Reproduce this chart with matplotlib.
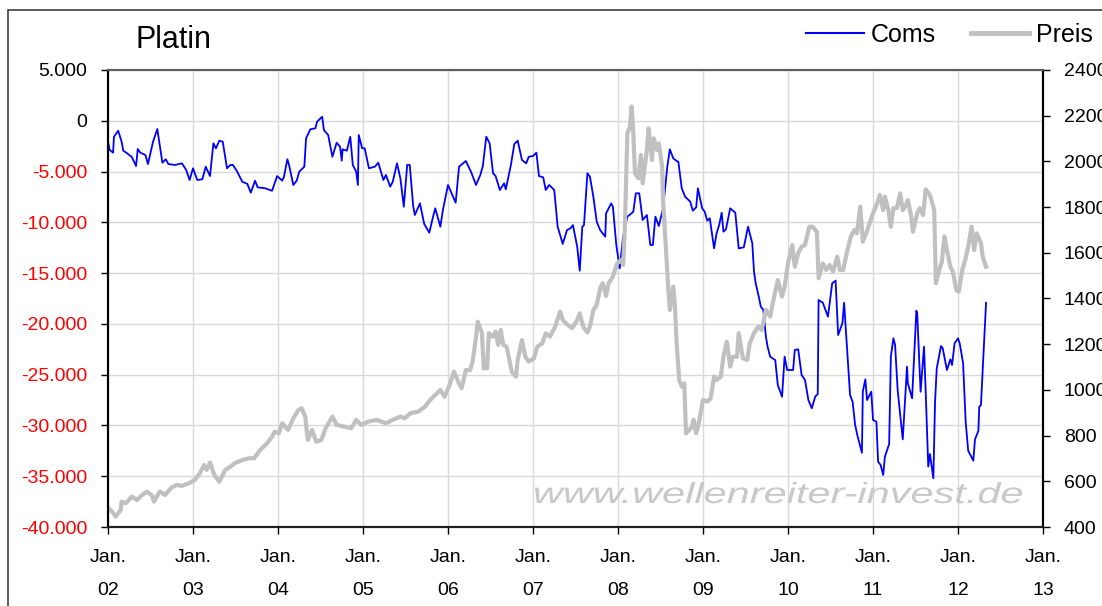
import matplotlib
matplotlib.use('Agg')
import matplotlib.pyplot as plt
from matplotlib.lines import Line2D
from matplotlib.patches import Rectangle, PathPatch
from matplotlib.textpath import TextPath
from matplotlib.font_manager import FontProperties
from matplotlib.transforms import Affine2D, IdentityTransform
from matplotlib.ticker import FuncFormatter

plt.rcParams['font.family'] = ['Liberation Sans', 'DejaVu Sans']

# Coms (net position), decimal years
coms_t = [2002.00, 2002.02, 2002.06, 2002.07, 2002.12, 2002.16, 2002.18, 2002.22, 2002.28, 2002.33,
          2002.35, 2002.38, 2002.44, 2002.47, 2002.53, 2002.58, 2002.64, 2002.68, 2002.71, 2002.79,
          2002.87, 2002.92, 2002.96, 2003.00, 2003.05, 2003.11, 2003.15, 2003.20, 2003.24, 2003.27,
          2003.31, 2003.35, 2003.40, 2003.44, 2003.47, 2003.52, 2003.58, 2003.64, 2003.68, 2003.73,
          2003.76, 2003.85, 2003.93, 2003.99, 2004.05, 2004.07, 2004.11, 2004.13, 2004.18, 2004.22,
          2004.25, 2004.31, 2004.33, 2004.38, 2004.44, 2004.46, 2004.52, 2004.54, 2004.59, 2004.64,
          2004.69, 2004.73, 2004.75, 2004.76, 2004.81, 2004.85, 2004.88, 2004.92, 2004.94, 2004.95,
          2004.99, 2005.02, 2005.07, 2005.14, 2005.18, 2005.24, 2005.27, 2005.32, 2005.35, 2005.40,
          2005.44, 2005.48, 2005.52, 2005.55, 2005.59, 2005.61, 2005.67, 2005.72, 2005.78, 2005.81,
          2005.85, 2005.91, 2005.94, 2006.00, 2006.09, 2006.13, 2006.21, 2006.27, 2006.33, 2006.38,
          2006.41, 2006.45, 2006.49, 2006.53, 2006.56, 2006.61, 2006.66, 2006.68, 2006.74, 2006.78,
          2006.82, 2006.87, 2006.92, 2006.95, 2007.00, 2007.04, 2007.07, 2007.12, 2007.15, 2007.19,
          2007.25, 2007.29, 2007.35, 2007.40, 2007.44, 2007.47, 2007.52, 2007.55, 2007.58, 2007.60,
          2007.64, 2007.67, 2007.71, 2007.75, 2007.79, 2007.85, 2007.86, 2007.92, 2007.94, 2007.98,
          2008.02, 2008.06, 2008.11, 2008.16, 2008.18, 2008.21, 2008.25, 2008.29, 2008.34, 2008.38,
          2008.41, 2008.44, 2008.48, 2008.53, 2008.58, 2008.61, 2008.65, 2008.69, 2008.71, 2008.75,
          2008.79, 2008.85, 2008.88, 2008.92, 2008.94, 2008.99, 2009.02, 2009.05, 2009.08, 2009.13,
          2009.16, 2009.19, 2009.22, 2009.24, 2009.27, 2009.32, 2009.38, 2009.42, 2009.48, 2009.53,
          2009.58, 2009.60, 2009.62, 2009.66, 2009.68, 2009.71, 2009.74, 2009.76, 2009.79, 2009.85,
          2009.88, 2009.93, 2009.96, 2009.99, 2010.06, 2010.08, 2010.12, 2010.16, 2010.20, 2010.24,
          2010.28, 2010.32, 2010.35, 2010.36, 2010.41, 2010.47, 2010.52, 2010.56, 2010.59, 2010.64,
          2010.66, 2010.73, 2010.76, 2010.79, 2010.82, 2010.87, 2010.88, 2010.91, 2010.93, 2010.98,
          2011.00, 2011.04, 2011.06, 2011.09, 2011.12, 2011.14, 2011.19, 2011.21, 2011.24, 2011.26,
          2011.29, 2011.35, 2011.40, 2011.41, 2011.46, 2011.51, 2011.52, 2011.56, 2011.60, 2011.62,
          2011.65, 2011.67, 2011.71, 2011.73, 2011.75, 2011.80, 2011.82, 2011.87, 2011.91, 2011.93,
          2011.96, 2012.00, 2012.02, 2012.06, 2012.09, 2012.12, 2012.18, 2012.20, 2012.24, 2012.25,
          2012.27, 2012.33]
coms = [-2060, -2880, -3140, -1570, -980, -2060, -2950, -3170, -3570, -4450,
        -2780, -3140, -3370, -4260, -2060, -810, -4130, -3790, -4260, -4350,
        -4190, -4850, -5830, -4680, -5830, -5760, -4520, -5440, -2220, -2710,
        -1960, -2060, -4680, -4350, -4350, -5010, -6000, -6220, -7080, -5900,
        -6550, -6650, -6890, -5440, -5900, -5510, -3790, -4350, -6320, -5900,
        -5010, -4520, -1730, -840, -740, -90, 400, -910, -1400, -3540,
        -2160, -2550, -3930, -2810, -2950, -1570, -4350, -5010, -6320, -1400,
        -2710, -2710, -4680, -4520, -4130, -5830, -5340, -6490, -6000, -4190,
        -5670, -8460, -4350, -4350, -8390, -9280, -8130, -10160, -11020, -9940,
        -8620, -10430, -8790, -6320, -8070, -4520, -3960, -5010, -6320, -5340,
        -4450, -1570, -2220, -5170, -5440, -6820, -6160, -6750, -4350, -2290,
        -1960, -3860, -4190, -3540, -3470, -3140, -5440, -5570, -6820, -6320,
        -6820, -10430, -12130, -10760, -10590, -10270, -12400, -14760, -10430, -10270,
        -5170, -5510, -7480, -9940, -10760, -11410, -9110, -8130, -8460, -12230,
        -14530, -11410, -9440, -9110, -8950, -7140, -7140, -9770, -9280, -12230,
        -12230, -9440, -10360, -8620, -4520, -2810, -3700, -3960, -4030, -6650,
        -7480, -7970, -8850, -8520, -6650, -8620, -8950, -9840, -9600, -12560,
        -11080, -10270, -9050, -10920, -10690, -8620, -9050, -12560, -12460, -10430,
        -12070, -14860, -16000, -17480, -18300, -18630, -21260, -22250, -23230, -23560,
        -26020, -27170, -23230, -24540, -24540, -22570, -22500, -25030, -25530, -27500,
        -28310, -27170, -26900, -17650, -17920, -19290, -16000, -15740, -21100, -19940,
        -17920, -27000, -27660, -29960, -31110, -32690, -26680, -25460, -27500, -26680,
        -29460, -29630, -33570, -33900, -34880, -33080, -31830, -23230, -21420, -22080,
        -26510, -31370, -24220, -25850, -27330, -18700, -18960, -26680, -22250, -26680,
        -34060, -32810, -35210, -27660, -24370, -22180, -22400, -24540, -23490, -24050,
        -21910, -21420, -21910, -23880, -29630, -32490, -33470, -31370, -30520, -28160,
        -27990, -17920]

# Platinum price (USD), decimal years
preis_t = [2002.01, 2002.05, 2002.09, 2002.15, 2002.16, 2002.21, 2002.28, 2002.34, 2002.40, 2002.46,
           2002.52, 2002.54, 2002.61, 2002.67, 2002.75, 2002.81, 2002.87, 2002.95, 2003.02, 2003.08,
           2003.13, 2003.16, 2003.20, 2003.25, 2003.31, 2003.38, 2003.44, 2003.49, 2003.58, 2003.66,
           2003.72, 2003.79, 2003.87, 2003.93, 2003.96, 2004.01, 2004.05, 2004.12, 2004.18, 2004.24,
           2004.28, 2004.32, 2004.35, 2004.40, 2004.45, 2004.51, 2004.56, 2004.64, 2004.69, 2004.78,
           2004.86, 2004.92, 2004.98, 2005.06, 2005.16, 2005.27, 2005.35, 2005.44, 2005.49, 2005.56,
           2005.65, 2005.73, 2005.79, 2005.85, 2005.91, 2005.96, 2006.02, 2006.07, 2006.12, 2006.16,
           2006.21, 2006.26, 2006.29, 2006.33, 2006.35, 2006.40, 2006.42, 2006.46, 2006.48, 2006.53,
           2006.56, 2006.59, 2006.62, 2006.65, 2006.69, 2006.75, 2006.80, 2006.82, 2006.87, 2006.91,
           2006.95, 2007.01, 2007.05, 2007.11, 2007.15, 2007.20, 2007.26, 2007.32, 2007.35, 2007.41,
           2007.46, 2007.52, 2007.55, 2007.59, 2007.64, 2007.67, 2007.71, 2007.75, 2007.79, 2007.82,
           2007.86, 2007.89, 2007.94, 2007.99, 2008.04, 2008.06, 2008.08, 2008.11, 2008.14, 2008.16,
           2008.18, 2008.20, 2008.24, 2008.27, 2008.29, 2008.34, 2008.36, 2008.40, 2008.42, 2008.46,
           2008.48, 2008.52, 2008.53, 2008.56, 2008.59, 2008.61, 2008.65, 2008.67, 2008.69, 2008.72,
           2008.75, 2008.78, 2008.80, 2008.84, 2008.87, 2008.89, 2008.92, 2008.95, 2009.00, 2009.05,
           2009.09, 2009.13, 2009.16, 2009.21, 2009.24, 2009.28, 2009.32, 2009.35, 2009.40, 2009.42,
           2009.47, 2009.52, 2009.55, 2009.60, 2009.65, 2009.69, 2009.74, 2009.79, 2009.82, 2009.88,
           2009.93, 2009.96, 2010.00, 2010.05, 2010.08, 2010.12, 2010.16, 2010.20, 2010.25, 2010.29,
           2010.34, 2010.36, 2010.41, 2010.45, 2010.49, 2010.53, 2010.58, 2010.61, 2010.65, 2010.69,
           2010.74, 2010.78, 2010.81, 2010.85, 2010.88, 2010.92, 2010.96, 2011.00, 2011.05, 2011.08,
           2011.12, 2011.14, 2011.18, 2011.21, 2011.24, 2011.28, 2011.32, 2011.35, 2011.38, 2011.41,
           2011.45, 2011.47, 2011.52, 2011.55, 2011.59, 2011.62, 2011.67, 2011.72, 2011.74, 2011.78,
           2011.81, 2011.84, 2011.87, 2011.91, 2011.94, 2011.98, 2012.01, 2012.05, 2012.09, 2012.12,
           2012.16, 2012.19, 2012.22, 2012.27, 2012.29, 2012.33]
preis = [482, 467, 445, 475, 511, 504, 533, 518, 540, 555,
         536, 511, 555, 540, 574, 584, 580, 591, 606, 635,
         671, 650, 682, 628, 598, 650, 664, 679, 693, 701,
         701, 737, 766, 795, 817, 810, 854, 825, 876, 912,
         920, 883, 781, 825, 773, 781, 832, 883, 847, 839,
         832, 869, 847, 861, 869, 854, 869, 883, 876, 898,
         905, 927, 956, 978, 1000, 970, 1022, 1080, 1036, 1007,
         1087, 1087, 1124, 1233, 1299, 1248, 1095, 1095, 1248, 1233,
         1255, 1197, 1262, 1197, 1189, 1080, 1058, 1131, 1218, 1145,
         1124, 1138, 1189, 1204, 1248, 1233, 1277, 1343, 1306, 1284,
         1270, 1306, 1335, 1277, 1251, 1277, 1350, 1372, 1445, 1467,
         1411, 1467, 1496, 1554, 1569, 1547, 1700, 2123, 2152, 2240,
         2123, 1948, 1926, 2028, 1904, 2050, 2145, 2006, 2101, 2050,
         2079, 1977, 1831, 1642, 1452, 1350, 1452, 1364, 1204, 1043,
         1014, 1029, 810, 825, 839, 869, 810, 854, 956, 949,
         963, 1058, 1043, 1058, 1145, 1211, 1102, 1145, 1145, 1248,
         1138, 1131, 1204, 1248, 1277, 1262, 1350, 1321, 1379, 1481,
         1408, 1452, 1554, 1634, 1539, 1598, 1627, 1634, 1714, 1714,
         1692, 1488, 1554, 1525, 1547, 1518, 1583, 1525, 1525, 1598,
         1671, 1700, 1685, 1802, 1649, 1685, 1729, 1773, 1817, 1853,
         1787, 1846, 1787, 1714, 1795, 1795, 1860, 1787, 1802, 1831,
         1758, 1692, 1773, 1795, 1765, 1878, 1853, 1787, 1467, 1525,
         1561, 1671, 1612, 1539, 1518, 1437, 1430, 1525, 1576, 1627,
         1714, 1612, 1685, 1642, 1583, 1539]

years = list(range(2002, 2014))
year_labels = ['Jan.\n%02d' % (y % 100) for y in years]
left_ticks = list(range(5000, -40001, -5000))
right_ticks = list(range(400, 2401, 200))
watermark = 'www.wellenreiter-invest.de'

W, H = 1102, 606
fig = plt.figure(figsize=(W / 100, H / 100), dpi=100)
ax = fig.add_axes([108/W, 1 - 527/H, (1043 - 108)/W, (527 - 70)/H])
ax2 = ax.twinx()

ax.plot(coms_t, coms, color='#0000ff', lw=1.3, zorder=3)
ax2.plot(preis_t, preis, color='#c0c0c0', lw=3.0, solid_joinstyle='round')

ax.set_xlim(2002, 2013)
ax.set_ylim(-40000, 5000)
ax2.set_ylim(400, 2400)

ax.set_xticks(years)
ax.set_xticklabels(year_labels, linespacing=2.2)
ax.set_yticks(left_ticks)
ax.yaxis.set_major_formatter(FuncFormatter(lambda v, p: '{:,.0f}'.format(v).replace(',', '.')))
ax2.set_yticks(right_ticks)

ax.grid(True, color='#d9d9d9', lw=1.0)
ax.set_axisbelow(True)

ax.tick_params(axis='y', labelsize=14, length=5, width=1, direction='out', pad=10)
ax.tick_params(axis='x', labelsize=14, length=5, width=1, direction='out', pad=11)
ax2.tick_params(axis='y', labelsize=14, length=5, width=1, direction='out', pad=10)

for lbl, v in zip(ax.get_yticklabels(), left_ticks):
    lbl.set_color('red' if v < 0 else 'black')

for a in (ax, ax2):
    for s in ('top', 'left', 'bottom', 'right'):
        a.spines[s].set_linewidth(1.5)
    a.spines['top'].set_color('#606060')
    a.spines['bottom'].set_color('#202020')

# watermark: wide italic text, stretched horizontally
tp = TextPath((0, 0), watermark, size=29, prop=FontProperties(family='Liberation Sans', style='italic'))
ext = tp.get_extents()
sx = (1022 - 535) / ext.width
wm_tr = Affine2D().translate(-ext.x0, 0).scale(sx, 1.0).translate(535, H - 503) + IdentityTransform()
ax.add_patch(PathPatch(tp, transform=wm_tr, facecolor='#c8c8c8', edgecolor='none',
                       zorder=1, clip_on=False))

fig.text(135/W, 1 - 48/H, 'Platin', fontsize=22, ha='left', va='baseline')

handles = [Line2D([], [], color='#0000ff', lw=1.5),
           Line2D([], [], color='#c0c0c0', lw=3.5)]
fig.legend(handles, ['Coms', 'Preis'], loc='center left', bbox_to_anchor=(806/W, 1 - 35/H),
           ncol=2, frameon=False, fontsize=18, borderpad=0, borderaxespad=0,
           handlelength=2.3, handletextpad=0.3, columnspacing=1.4)

fig.add_artist(Rectangle((8/W, -0.2), 1.5, 1.2 - 10/H, transform=fig.transFigure,
                         fill=False, edgecolor='#404040', lw=1.2))

fig.savefig('out.png', dpi=100)
